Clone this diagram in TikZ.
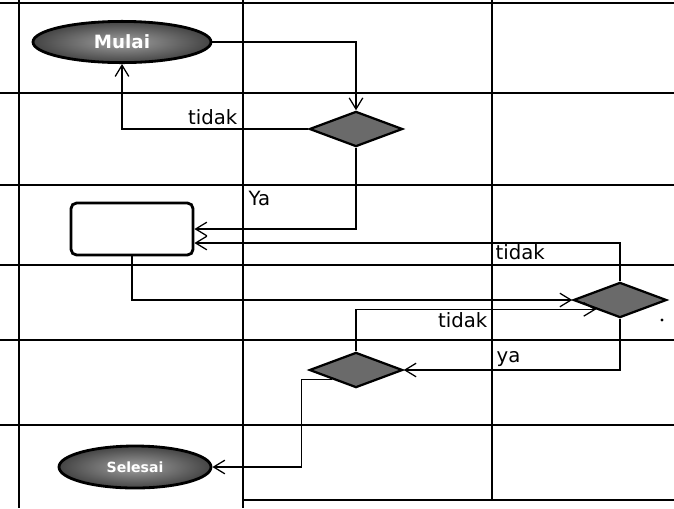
\documentclass[tikz,border=0pt]{standalone}
\usepackage{fontspec}
\setmainfont{DejaVu Sans}
\usetikzlibrary{shapes.geometric, arrows.meta, positioning, calc}
\definecolor{FlowGray}{HTML}{6A6A6A}
\definecolor{FlowDark}{HTML}{444444}
\definecolor{FlowLight}{HTML}{A0A0A0}

\begin{document}
\begin{tikzpicture}[x=0.025cm, y=-0.025cm, >={Straight Barb[length=2.8mm, width=3.4mm]},
        lane/.style={line width=0.9pt, black},
        terminal/.style={ellipse, draw=black, line width=2pt, inner color=FlowLight, outer color=FlowDark, text=white, inner sep=0pt},
        decision/.style={diamond, draw=black, line width=1.6pt, fill=FlowGray, minimum width=2.33cm, minimum height=0.88cm, inner sep=0pt},
        process/.style={rectangle, draw=black, line width=2pt, fill=white, rounded corners=4pt, minimum width=3.05cm, minimum height=1.3cm},
        branch/.style={font=\fontsize{14}{16}\selectfont, inner sep=1pt},
        arrow/.style={->, line width=0.9pt, black}]

        \useasboundingbox (0,0) rectangle (674,508);

        % swimlane grid
        \foreach \y in {3,93,185,265,340,425}
            \draw[lane] (0,\y) -- (674,\y);
        \draw[lane] (243,500) -- (674,500);
        \draw[lane] (19,0) -- (19,508);
        \draw[lane] (243,0) -- (243,508);
        \draw[lane] (492,0) -- (492,500);

        \node[terminal, minimum width=4.45cm, minimum height=1.03cm, font=\bfseries\fontsize{13}{15}\selectfont] (mulai) at (122,42) {Mulai};
        \node[decision] (cek1) at (356,129) {};
        \node[process] (proses) at (132,229) {};
        \node[decision] (cek2) at (620,300) {};
        \node[decision] (cek3) at (356,370) {};
        \node[terminal, minimum width=3.8cm, minimum height=1.05cm, font=\bfseries\fontsize{10}{12}\selectfont] (selesai) at (135,467) {Selesai};
        \coordinate (proses-in) at ($(proses.east)+(0,14)$);

        \draw[arrow] (mulai.east) -| (cek1.north);
        \draw[arrow] (cek1.west) -| (mulai.south);
        \draw[arrow] (cek1.south) |- (proses.east);
        \draw[arrow] (cek2.north) |- (proses-in);
        \draw[arrow] (proses.south) |- (cek2.west);
        \draw[arrow] (cek2.south) |- (cek3.east);
        \draw[arrow] (cek3.north) |- (cek2.south west);
        \draw[arrow] (cek3.south west) -- ++(-31,0) |- (selesai.east);

        \node[branch, anchor=south east] (tidak1) at (239,126) {tidak};
        \node[branch, anchor=north west] (ya1) at (247,189) {Ya};
        \node[branch, anchor=north west] (tidak2) at (494,243) {tidak};
        \node[branch, anchor=north east] (tidak3) at (489,311) {tidak};
        \node[branch, anchor=south west] (ya2) at (495,368) {ya};
        \fill (662,320) circle (1.1pt);
    \end{tikzpicture}
\end{document}
